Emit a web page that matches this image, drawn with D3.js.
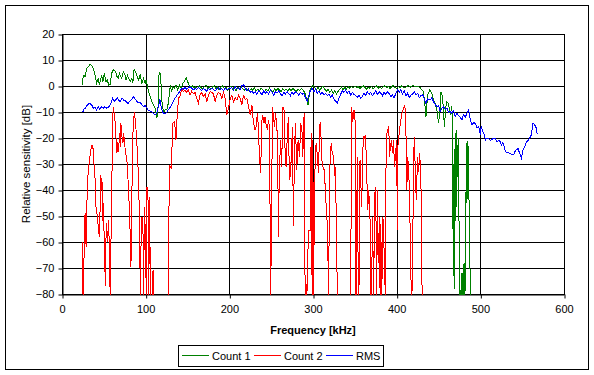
<!DOCTYPE html>
<html>
<head>
<meta charset="utf-8">
<script src="https://cdn.jsdelivr.net/npm/d3@7"></script>
<style>
  body { margin: 0; background: #fff; }
  text { font-family: Arial, "Liberation Sans", sans-serif; }
</style>
</head>
<body>
<script>
const xTicks = [0, 100, 200, 300, 400, 500, 600];
const yTicks = [20, 10, 0, -10, -20, -30, -40, -50, -60, -70, -80];
const seriesNames = ['Count 1', 'Count 2', 'RMS'];

// [frequency kHz, relative sensitivity dB]; values under -80 fall off the axis
const count1 = [[24.7,0.4],[24.9,3],[26.3,4.2],[27.5,3.6],[29.5,6.8],[31.5,7.4],[33.5,8.3],[35.5,7.8],[37.5,6.8],[39.4,4.2],[41.4,1],[43.4,3],[44.6,0.6],[46.2,2.3],[47.4,4.2],[48.6,1.9],[49.4,2.3],[50.6,4.9],[51.8,3],[52.6,1.7],[54.2,2.3],[55.8,0.4],[57.4,0.6],[59.4,4.9],[61.4,6.2],[63,5.8],[64.2,5.5],[65.8,3.6],[67.4,3],[68.6,4.9],[70.2,3.6],[71.4,3],[73.4,5.5],[75.4,4.2],[76.6,2.3],[78.2,4.2],[79.4,3.2],[81.4,1.7],[83.4,3],[84.6,1],[86.2,6.5],[87.8,5.5],[89.4,4.2],[91.4,2.3],[93.4,4.2],[95.4,1],[97.4,3],[99.4,1],[100.6,2.3],[102.2,-0.3],[103.4,-2.2],[105.4,-4.1],[107.4,-6],[109.4,-7.3],[111.4,-8.6],[113.4,-12.4],[114.6,-9.9],[115.8,4.2],[117,5.3],[118.2,1.7],[119.4,-6],[120.6,-8.6],[121.8,-9.9],[123.4,-9.2],[125.4,-9.2],[127.4,-6],[129.4,0.4],[131,-2.2],[132.6,-0.3],[134.2,-1],[136.2,0.4],[138.2,-1.5],[140.6,0.4],[142.6,-1],[144.6,1],[147,2.3],[148.6,3],[150.2,1.7],[151.8,0.4],[154.2,-0.3],
  [156,0],[158,-0.8],[160,-0.3],[162,-1],[164,0.2],[166,-0.6],[168,-1.2],[170,-0.2],[172,0.3],[174,-0.8],[176,-0.2],[178,-1.3],[180,-0.4],[182,0.2],[184,-0.9],[186,-0.3],[188,-1.5],[190,-0.5],[192,0],[194,-1],[196,-0.4],[198,-1.6],[200,-0.6],[202,-0.2],[204,-1.2],[206,-0.5],[208,-1.8],[210,-0.8],[212,-1.3],[214,-0.3],[216,-1],[218,-1.7],[220,-0.8],[222,-1.4],[224,-2],[226,-1],[228,-1.6],[230,-0.7],[232,-1.9],[234,-1.2],[236,-1.7],[238,-0.9],[240,-1.5],[242,-2.2],[244,-1.1],[246,-1.8],[248,-0.8],[250,-1.6],[252,-2.3],[254,-1.2],[256,-1.8],[258,-0.9],[260,-1.6],[262,-2.1],[264,-1],[266,-1.7],[268,-1.2],[270,-2],[272,-1.1],[274,-1.8],[276,-0.9],[278,-1.5],[280,-2.2],[282,-1.2],[284,-1.7],[286,-1],[288,-1.6],[290,-2.4],[292,-4.5],[294,-7.3],[296,-2],[298,-0.3],[300,0.2],[302,-0.6],[304,-1.5],[306,-0.4],[308,-1.9],[310,-0.7],[312,0.1],[314,-1.2],[316,-2],[318,-1.3],[320,-2.5],[322,-1.6],[324,-2.8],[326,-1.9],[328,-3],[330,-2.1],[332,-1.2],[334,-0.5],[336,-1.6],[338,-0.4],[340,-1.1],[342,-0.3],[344,-0.9],[346,-0.2],[348,-0.8],[350,0],[352,-0.7],[354,-0.2],[356,-1],[358,-0.3],[360,0.1],[362,-0.6],[364,-1.2],[366,-0.4],[368,-0.9],[370,-0.2],[372,-1.1],[374,-0.5],[376,0],[378,-0.8],[380,-0.3],[382,-1],[384,-0.4],[386,0.1],[388,-0.7],[390,-0.2],[392,-0.9],[394,-0.3],[396,0.2],[398,-0.5],[400,-1],[402,-0.3],[404,-0.6],[406,0.1],[408,-0.4],[410,-0.8],[412,-0.2],[414,0.2],[416,-0.5],[418,-0.1],[420,0.2],[422,-0.4],[424,-0.1],[426,-0.3],[428,-0.5],[430,-1.5],[432,-2.2],[434,-8],[435,-11.8],[437,-3.5],[439.5,-1.5],[442,-2.8],[444,-5.4],[446,-6.7],[448,-9.2],[450,-14.3],[452,-9.2],[453,-2.2],[454.5,-4],[456,-9.2],[457,-15.6],[459,-7.5],[460,-6],[462,-6.7],[464,-11],[466,-7.9],
  [466.5,-13.7],[467,-55],[467.8,-30],[468.3,-53],[468.6,-78],[469.5,-50],[469.8,-18],[470.6,-52],[471.3,-40],[471.8,-17],[472.5,-35],[473.5,-20],[474,-34],[474.8,-62],[475.5,-82],[476.5,-85],[477.3,-72],[478,-82],[479,-72],[479.5,-85],[480.5,-68],[481.5,-82],[482.5,-66],[483.2,-22],[484,-45],[485.2,-21],[486,-40],[487,-48],[488,-82]];

const count2 = [[24,-60],[24.5,-77],[25.5,-82],[26.8,-57],[27.6,-49],[28.8,-62],[29.6,-48],[30.4,-37],[31.6,-32],[32.8,-28.5],[34.4,-24.6],[36,-22.7],[37.5,-24.6],[38.4,-31],[39.6,-36],[40.8,-47.7],[42.4,-50],[43.6,-55.4],[44.8,-58],[45.6,-46.4],[46.4,-34.2],[47.6,-40],[48.4,-37],[48.8,-52],[49.6,-45],[50.8,-65.7],[52,-77],[52.8,-52.7],[54.4,-60],[55.6,-51.5],[56.8,-64],[57.6,-82],[58.4,-62],[59.6,-38.7],[60.4,-11.8],[61.6,-8],[62.8,-11.8],[63.6,-14.3],[64.8,-21.4],[65.6,-25.9],[66.8,-21.4],[67.6,-25.3],[68.8,-18.2],[69.6,-23.3],[70.4,-14.3],[71.6,-19.5],[72.8,-22],[73.6,-18],[75.6,-24.6],[77.6,-28.5],[79.6,-40],[81.6,-58],[82.4,-69.5],[83.6,-40],[84.8,-18.2],[86.4,-9.9],[87.6,-13],[88.8,-18.2],[90.4,-27.2],[91.6,-37.4],[92.8,-55],[93.6,-82],[94.4,-61.8],[95.6,-50.3],[96.8,-56],[97.6,-82],[98.4,-46.4],[99.6,-56],[100.8,-82],[101.6,-38.7],[102.8,-44],[103.6,-82],[104.8,-42.6],[105.6,-82],[107,-90],[108.8,-70.8],[109.6,-82],[112,-95],[118,-98],[124,-95],[126.8,-82],[127.2,-56],[129,-31],[130.5,-31.5],[132.6,-14.3],[134.6,-13.7],[136.2,-20.8],[137.4,-13],[138.2,-9.2],[139.4,-4.7],[141.4,-3.5],[143,-0.9],[145,-2.2],[147,-1.5],[149,-2.5],[151,-1.5],[153,-3.5],[155,-2],[157,-3],[159,-2.5],[161,-4.7],[163,-6.7],[165,-3.5],[167,-2.5],[169,-4],[171,-3],[173,-6],[175,-3.5],[177,-2.2],[179,-2.5],[181,-3],[183,-6],[185,-3.5],[187,-2.5],[189,-3],[191,-4.7],[193,-2.5],[195,-4.7],[197,-11.2],[199,-8.6],[201,-5],[203,-3.5],[205,-6],[207,-4.5],[209,-5.4],[211,-3.5],[213,-4.7],[215,-7.3],[217,-3.5],[219,-5.4],[221,-4.7],[223,-8],[225,-11.2],[227,-7.3],[228.7,-13.7],[230.7,-16.9],[232,-15.6],[233.5,-10.5],[234.7,-15.6],[235.8,-25.9],[237.5,-33.6],[238.7,-13.7],[239.9,-11.2],[241.5,-14.3],[242.7,-12],[243.9,-14.8],[245.5,-16.9],[246.7,-13],[247.9,-15.6],[249.5,-82],[250.6,-38.7],[251.8,-8],[252.6,-11.8],[254.2,-15.6],[255,-10.5],[256.6,-14.3],[257.8,-23.3],[258.6,-58],[259.8,-32.3],[261.4,-20.8],[262.6,-31],[263.8,-8],[265.4,-9.2],[266.2,-22],[267.8,-31],[269.4,-18.2],[270.6,-11.8],[271.8,-36],[272.6,-34.7],[274.2,-27.2],[275.4,-15.6],[276.6,-54],[277.8,-26],[279,-14.3],[280.6,-32.3],[282.2,-20.8],[283.8,-27.2],[285.4,-14.3],[287,-18.2],[287.8,-27.2],[289.4,-10.5],[290.6,-82],[291.8,-76],[292.6,-82],[294.6,-55.4],[296.6,-55.4],[297.8,-18.2],[299,-82],[299.8,-20.8],[300.6,-82],[301.4,-55.4],[302.6,-27.2],[303.8,-22],[304.6,-24.6],[306.6,-33.6],[307.8,-16.9],[308.6,-13.7],[309.8,-20.8],[310.6,-28.5],[311.8,-31],[313.4,-32.3],[314.6,-38.7],[315.8,-46.4],[317,-52.8],[317.8,-64],[318.6,-82],[319.8,-36],[320.6,-27.2],[321.8,-22],[323,-26],[324.6,-27.2],[325.8,-34.7],[327,-31],[328.2,-64],[329.4,-82],[335,-95],[342,-95],[345,-82],[346.2,-8],[347.4,-13.7],[349,-9.2],[350.2,-13],[351.4,-82],[353,-27.2],[354.2,-82],[355.4,-74],[356.2,-28.5],[358.2,-46.4],[359.4,-27.2],[360.2,-19.5],[361.4,-20.1],[362.6,-18.8],[363.4,-24.6],[364.2,-33.6],[365.4,-47.7],[366.6,-40],[368.2,-51.5],[369.4,-82],[370.2,-72],[371.4,-50.3],[372.2,-82],[373.4,-55.4],[374.2,-38.7],[375.4,-53],[376.2,-82],[377,-40],[378.2,-68],[379.4,-50.3],[380.2,-82],[381,-53],[382.2,-82],[383.4,-50.3],[384.2,-53],[385.4,-69.5],[386.6,-82],[387.4,-22],[388.2,-18.2],[389.4,-16.9],[390.6,-15.6],[391.4,-27.2],[392.6,-23.3],[393.8,-20.8],[395,-25.9],[396.2,-20.8],[397.4,-31],[398.6,-27],[399.8,-20.8],[401,-55.4],[401.4,-23.3],[402.6,-19.5],[403.4,-16.9],[405,-13],[406.2,-10.5],[408.2,-8.6],[409.8,-7.3],[411,-15.6],[412.2,-40],[413,-27.2],[414.2,-31],[415.4,-42],[417,-73.3],[418.2,-82],[419.4,-55.4],[420.2,-31],[421,-19.5],[422.2,-31.7],[423.4,-43.8],[425,-27.2],[426.2,-33],[427.4,-25.9],[428.6,-32.3],[429.4,-43.8],[430.2,-76],[431.4,-82]];

const rms = [[25,-9.9],[26,-9],[27.5,-8.6],[29,-8],[31,-7],[33.5,-6.7],[35.5,-7.3],[37.5,-8.5],[39.4,-8],[41.4,-9.2],[43.4,-8],[45,-8.8],[47.4,-8],[49.4,-8.5],[51,-8],[53.4,-8.5],[55.8,-8],[57.4,-7.3],[59.4,-6],[60.5,-4.7],[62,-5.5],[63,-6],[65,-5],[66,-4.5],[68,-5.5],[69.5,-6],[71,-5],[72.5,-4.7],[74,-5.8],[75.5,-5.5],[77,-6.2],[79,-6.7],[80.5,-6],[82.5,-5.5],[84.5,-4.5],[86,-4.1],[88,-5.3],[89.5,-6],[91.5,-6.5],[93.5,-6.3],[95.5,-7.3],[97.5,-8],[99.5,-7.5],[101.5,-8.5],[103,-9.2],[105,-9.5],[107,-9.9],[109,-10.5],[111,-11.2],[112.5,-10.8],[114,-9.5],[116,-7],[117,-5],[118.5,-8],[120,-10],[121.5,-10.5],[123,-10.6],[125,-10.3],[127,-9.2],[129,-8.3],[131,-7.3],[133,-6],[135,-4.7],[137,-3.8],[139,-2.8],[141,-2],[143,-0.9],[145,-1.3],[147,-0.6],[149,-1.2],[151,-0.7],[153,-0.3],[155,-0.8],[157,-1.5],[159,-0.9],[161,-1.3],[163,-0.6],[165,-1.2],[167,-1.8],[169,-1],[171,-1.4],[173,-2],[175,-0.9],[177,-1.5],[179,-0.8],[181,-1.3],[183,-2],[185,-1.1],[187,-0.6],[189,-1.4],[191,-1],[193,-1.7],[195,-0.8],[197,-1.5],[199,-1.1],
  [201,-0.9],[203,-0.6],[205,-1.5],[207,-0.3],[209,-1.2],[211,-0.6],[213,-1.5],[215,0.1],[217,0.6],[219,-0.9],[221,-1.9],[223,-1.2],[225,-2.4],[227,-1.9],[229,-2.8],[231,-2.2],[233,-3.2],[235,-1.9],[237,-2.4],[239,-3.5],[241,-1.9],[243,-2.8],[245,-2.2],[247,-3.2],[249,-1.5],[251,-2.4],[253,-3.5],[255,-2.2],[257,-2.8],[259,-1.9],[261,-2.9],[263,-3.7],[265,-2.4],[267,-3.2],[269,-2.2],[271,-2.9],[273,-3.7],[275,-2.4],[277,-3.2],[279,-2.2],[281,-2.8],[283,-3.5],[285,-2.4],[287,-3.2],[289,-2.8],[291,-4.5],[293,-5.8],[295,-3.7],[297,-1.9],[299,-0.9],[301,-2.2],[303,-1.2],[305,-2.8],[307,-1.9],[309,-3.2],[311,-2.4],[313,-3.5],[315,-2.8],[317,-3.7],[319,-3.2],[321,-4.2],[323,-3.5],[325,-5],[327,-5.8],[329,-6.7],[331,-4.7],[333,-3.2],[335,-1.9],[337,-2.4],[339,-1.5],[341,-2.8],[343,-1.9],[345,-3.5],[347,-2.4],[349,-3.2],[351,-3.7],[353,-4.5],[355,-3.5],[357,-4.7],[359,-4.1],[361,-2.8],[363,-3.7],[365,-2.2],[367,-3.2],[369,-2.4],[371,-3.7],[373,-2.8],[375,-1.9],[377,-3.2],[379,-2.2],[381,-2.8],[383,-3.7],[385,-2.4],[387,-3.2],[389,-2.2],[391,-2.9],[393,-4.1],[395,-3.5],[397,-4.5],[399,-2.8],[401,-1.5],[403,-2.4],[405,-1.2],[407,-3.2],[409,-1.9],[411,-3.7],[413,-2.8],[415,-4.5],[417,-3.5],[419,-3.2],[421,-2.2],[423,-3.5],[425,-2.8],[427,-4.5],[429,-3.7],[431,-3.2],[433,-5],[435,-6.7],
  [437,-5],[440,-5.4],[442,-4.5],[444,-6],[446,-7],[448,-8],[450,-7.5],[452,-9.9],[454,-8.5],[456,-8],[458,-9],[460,-8.5],[462,-10],[464,-9.9],[466,-10.5],[468,-9.5],[470,-11.8],[472,-10.5],[474,-11.5],[476,-12],[478,-13],[480,-11],[482,-12],[484,-10.5],[486,-9.2],[488,-13],[490,-15],[492,-14],[494,-14.5],[496,-16],[498,-15.6],[500,-18.8],[501,-15.6],[503,-17.6],[505,-19],[506,-20.8],[508,-20],[510,-20.1],[512,-21],[514,-20.5],[516,-20],[518,-20.3],[520,-21.4],[522,-21],[524,-21.4],[525,-22.7],[527,-21.8],[529,-24],[530,-25.3],[532,-25.5],[535,-25.9],[538,-26.3],[540,-26.5],[541,-25.3],[543,-24.6],[545,-24],[547,-25.9],[549,-27.8],[551,-24.6],[553,-23.5],[555,-21.4],[557,-21],[559,-20],[561,-18.8],[563,-14.3],[565,-15],[567,-16.3],[568,-18.5]];

const colors = ['#008000', '#ff0000', '#0000ff'];
const width = 594, height = 375;
const plot = {left: 62, right: 564, top: 34, bottom: 294};

const svg = d3.select('body').append('svg')
    .attr('width', width).attr('height', height);

svg.append('rect')
    .attr('x', 5.5).attr('y', 5.5)
    .attr('width', 583).attr('height', 364)
    .attr('fill', '#fff').attr('stroke', '#000');

const x = d3.scaleLinear().domain([0, 600]).range([plot.left, plot.right]);
const y = d3.scaleLinear().domain([-80, 20]).range([plot.bottom, plot.top]);

// gridlines
svg.append('g').selectAll('line.vgrid')
    .data(xTicks)
    .enter().append('line')
    .attr('x1', d => Math.round(x(d)) + 0.5).attr('x2', d => Math.round(x(d)) + 0.5)
    .attr('y1', plot.top).attr('y2', plot.bottom)
    .attr('stroke', '#000');

svg.append('g').selectAll('line.hgrid')
    .data(yTicks)
    .enter().append('line')
    .attr('x1', plot.left).attr('x2', plot.right + 1)
    .attr('y1', d => Math.round(y(d)) + 0.5).attr('y2', d => Math.round(y(d)) + 0.5)
    .attr('stroke', '#000');

const xAxis = svg.append('g')
    .attr('transform', `translate(0, ${Math.round(y(-80)) + 0.5})`)
    .call(d3.axisBottom(x).tickValues(xTicks).tickSize(4).tickSizeOuter(0).tickPadding(7));

const yAxis = svg.append('g')
    .attr('transform', `translate(${Math.round(x(0)) + 0.5}, 0)`)
    .call(d3.axisLeft(y).tickValues(yTicks).tickSize(4).tickSizeOuter(0).tickPadding(4));

[xAxis, yAxis].forEach(g => {
    g.selectAll('path, line').attr('stroke', '#000');
    g.selectAll('text').attr('fill', '#000').style('font-size', '11px');
});
xAxis.selectAll('.tick line').attr('transform', 'translate(0.5,0)');
yAxis.selectAll('.tick line').attr('transform', 'translate(0,0.5)');

svg.append('clipPath').attr('id', 'plotClip')
    .append('rect')
    .attr('x', plot.left).attr('y', plot.top)
    .attr('width', plot.right - plot.left + 1).attr('height', plot.bottom - plot.top + 1);

const line = d3.line().x(d => x(d[0])).y(d => y(d[1]));

// red first, then green, blue on top
svg.append('g').attr('clip-path', 'url(#plotClip)')
    .selectAll('path.series')
    .data([{s: count2, c: colors[1]}, {s: count1, c: colors[0]}, {s: rms, c: colors[2]}])
    .enter().append('path')
    .attr('class', 'series')
    .attr('d', d => line(d.s))
    .attr('fill', 'none')
    .attr('stroke', d => d.c)
    .attr('stroke-width', 1)
    .attr('shape-rendering', 'crispEdges');

svg.append('text')
    .attr('x', (plot.left + plot.right) / 2)
    .attr('y', 334)
    .attr('text-anchor', 'middle')
    .style('font-size', '11px').style('font-weight', 'bold')
    .text('Frequency [kHz]');

svg.append('text')
    .attr('transform', `translate(30, ${(plot.top + plot.bottom) / 2}) rotate(-90)`)
    .attr('text-anchor', 'middle')
    .style('font-size', '11.5px')
    .text('Relative sensitivity [dB]');

const legend = svg.append('g');
legend.append('rect')
    .attr('x', 178.5).attr('y', 345.5)
    .attr('width', 205).attr('height', 21)
    .attr('fill', '#fff').attr('stroke', '#000');

const legendX = [182, 254, 326];
seriesNames.forEach((name, i) => {
    legend.append('line')
        .attr('x1', legendX[i]).attr('x2', legendX[i] + 27)
        .attr('y1', 355.5).attr('y2', 355.5)
        .attr('stroke', colors[i]);
    legend.append('text')
        .attr('x', legendX[i] + 30).attr('y', 359.5)
        .style('font-size', '11px')
        .text(name);
});
</script>
</body>
</html>
